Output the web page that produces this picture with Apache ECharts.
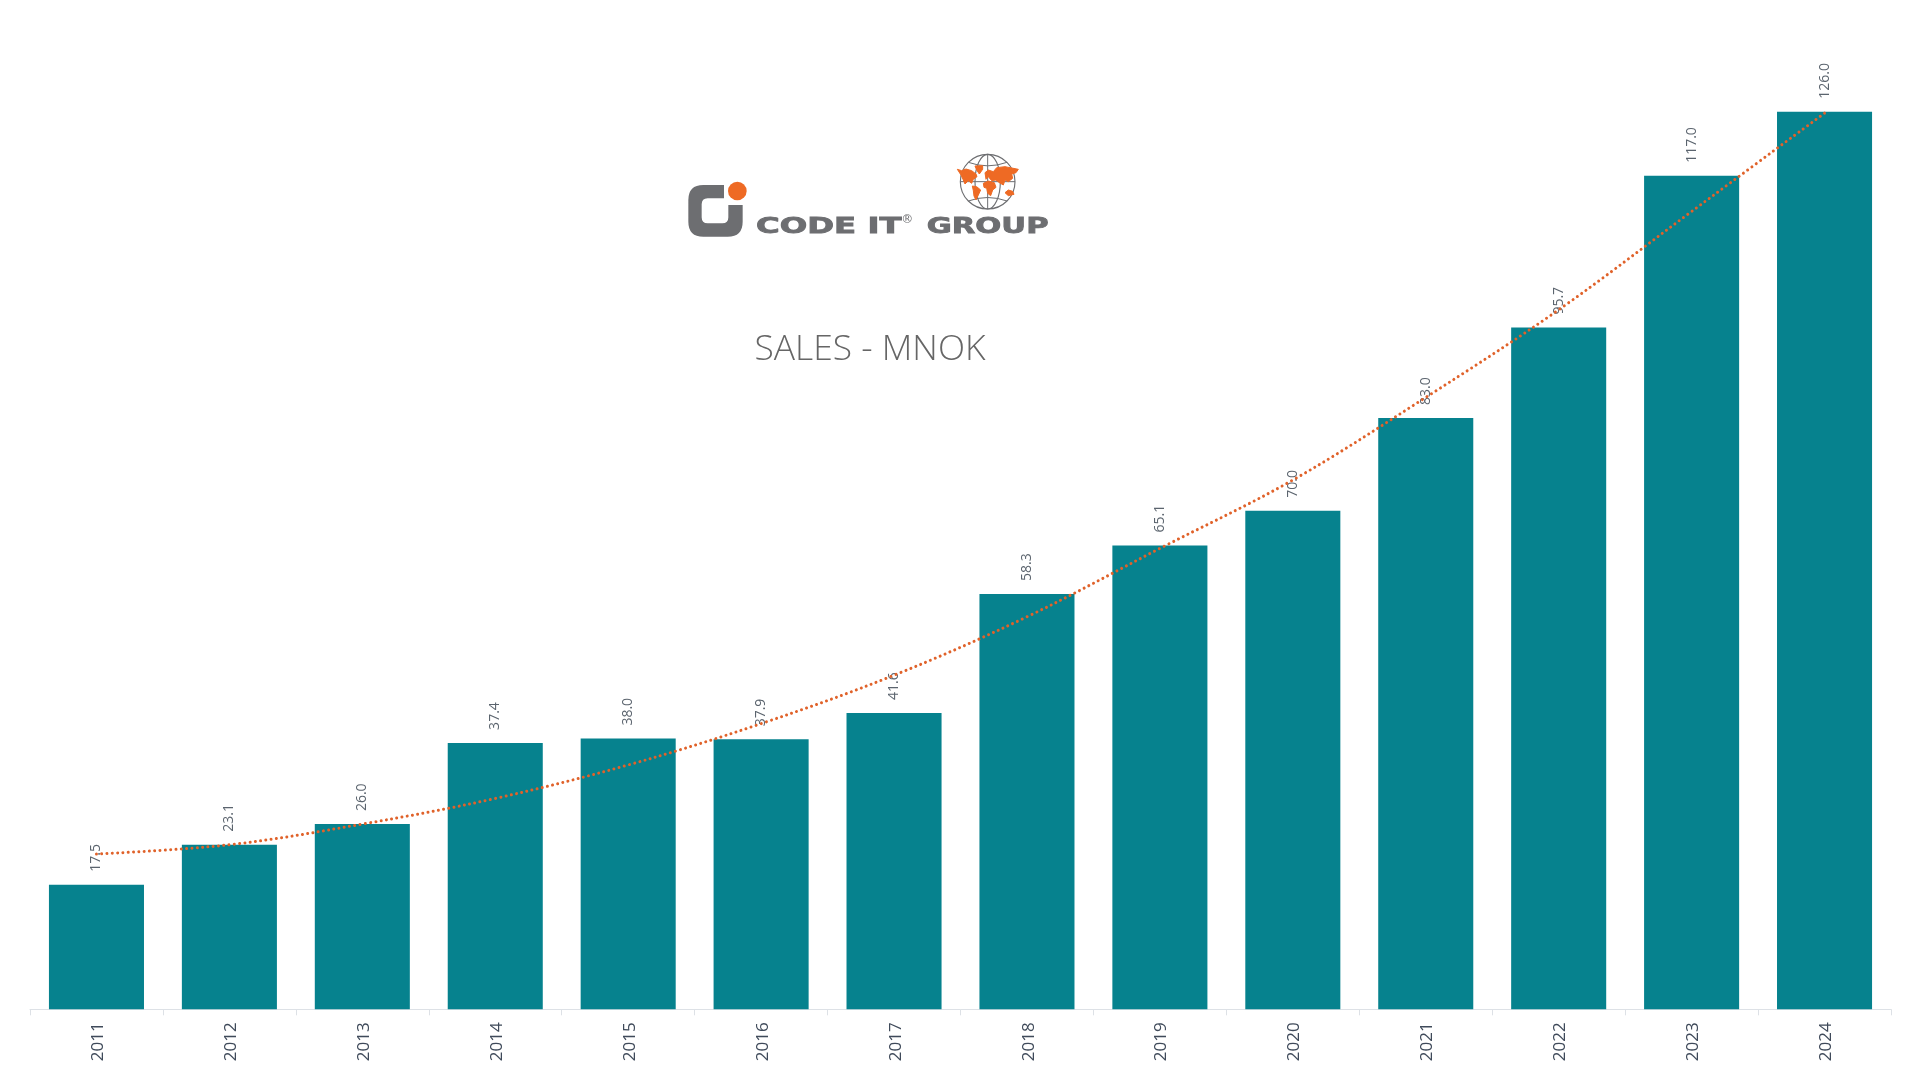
<!DOCTYPE html>
<html>
<head>
<meta charset="utf-8">
<title>Sales - MNOK</title>
<script src="https://cdn.jsdelivr.net/npm/echarts@6/dist/echarts.min.js"></script>
<style>html,body{margin:0;padding:0;background:#fff}#c{width:1920px;height:1080px}</style>
</head>
<body>
<div id="c"></div>
<script>
const years = ['2011','2012','2013','2014','2015','2016','2017','2018','2019','2020','2021','2022','2023','2024'];
const sales = [17.5,23.1,26.0,37.4,38.0,37.9,41.6,58.3,65.1,70.0,83.0,95.7,117.0,126.0];
const trend = [21.8,23.1,26.0,29.6,34.3,40.1,46.9,55.1,64.7,74.3,85.9,98.2,112.0,125.8];
const titleText = 'SALES - MNOK';

const grey = '#6d6e71', orange = '#EE6A24';
echarts.graphic.registerShape('logoMark', echarts.graphic.extendPath('M192 165 L130 165 Q85 165 85 210 L85 275 Q85 320 130 320 L203 320 Q248 320 248 275 L248 225 L205 225 L205 262 Q205 280 187 280 L143 280 Q125 280 125 262 L125 223 Q125 205 143 205 L192 205 Z'));
echarts.graphic.registerShape('logoLatitudes', echarts.graphic.extendPath('M925 97 Q983 118 1041 97 M925 213 Q983 192 1041 213 M901 155 L1065 155'));
const poly = (points) => ({type:'polygon', shape:{points}, style:{fill:orange, stroke:orange, lineWidth:3, lineJoin:'round'}});
const ring = (shape) => ({type:'ellipse', shape, style:{fill:'none', stroke:grey, lineWidth:3.4}});
const logoText = (text, x, y, scaleX, font) => ({type:'text', x, y, scaleX, style:{text, font, fill:grey, stroke:grey, lineWidth:2.5, verticalAlign:'middle'}});
const logo = {
  type:'group', x:660, y:130, scaleX:1/3, scaleY:1/3, silent:true,
  children:[
    {type:'logoMark', style:{fill:grey}},
    {type:'circle', shape:{cx:232, cy:183, r:28}, style:{fill:orange}},
    logoText('CODE IT', 288, 291, 1.47, 'bold 66px "DejaVu Sans"'),
    {type:'text', x:724, y:270, style:{text:'®', font:'36px "DejaVu Sans"', fill:grey, verticalAlign:'middle'}},
    logoText('GROUP', 800, 291, 1.39, 'bold 66px "DejaVu Sans"'),
    ring({cx:983, cy:155, rx:82, ry:82}),
    ring({cx:983, cy:155, rx:38, ry:82}),
    {type:'line', shape:{x1:983,y1:73,x2:983,y2:237}, style:{stroke:grey, lineWidth:3}},
    {type:'logoLatitudes', style:{fill:'none', stroke:grey, lineWidth:3}},
    poly([[892,118],[905,122],[918,117],[935,122],[948,132],[951,140],[940,148],[935,160],[925,152],[915,162],[910,150],[903,135]]),
    poly([[945,108],[968,107],[968,118],[958,132],[950,120]]),
    poly([[937,168],[950,170],[962,180],[955,195],[948,210],[942,198],[940,182]]),
    poly([[975,128],[985,120],[1000,125],[1010,113],[1035,110],[1075,118],[1068,128],[1055,132],[1058,145],[1045,155],[1035,150],[1030,165],[1018,158],[1008,150],[995,152],[985,140],[978,148]]),
    poly([[970,160],[985,153],[1003,158],[1008,172],[998,180],[992,197],[983,190],[980,175],[972,172]]),
    poly([[1035,188],[1045,180],[1058,184],[1062,193],[1045,197]])
  ]
};

const chart = echarts.init(document.getElementById('c'), null, {renderer:'canvas'});
chart.setOption({
  animation:false,
  backgroundColor:'#ffffff',
  title:{text:titleText, left:865, top:327, textAlign:'center',
    textStyle:{fontFamily:'"Open Sans"', fontWeight:300, fontSize:35.4, color:'#666666'}},
  grid:{left:30, right:29, top:12, bottom:70.7, containLabel:false},
  xAxis:{type:'category', data:years, boundaryGap:true,
    axisLine:{lineStyle:{color:'#dde1e6', width:1}},
    axisTick:{show:true, length:6, lineStyle:{color:'#dde1e6'}},
    axisLabel:{rotate:90, margin:13, formatter:v=>'{y|'+v+'}',
      rich:{y:{fontFamily:'"Open Sans"', fontSize:17, color:'#3f4a5a', padding:[3.5,0,0,0]}}}},
  yAxis:{type:'value', min:0, max:140, show:false, splitLine:{show:false}},
  series:[
    {type:'bar', data:sales, barWidth:'71.5%', itemStyle:{color:'#06828E'},
     label:{show:true, position:'top', rotate:90, align:'left', verticalAlign:'middle', distance:11, offset:[2,0],
       formatter:p=>p.value.toFixed(1), fontFamily:'"Open Sans"', fontSize:14, color:'#5b646e'}},
    {type:'line', data:trend, smooth:0.35, symbol:'none', silent:true,
     lineStyle:{color:'#E0622A', width:3, type:[0.01,5.3], cap:'round'}}
  ],
  graphic:[logo]
});
</script>
</body>
</html>
